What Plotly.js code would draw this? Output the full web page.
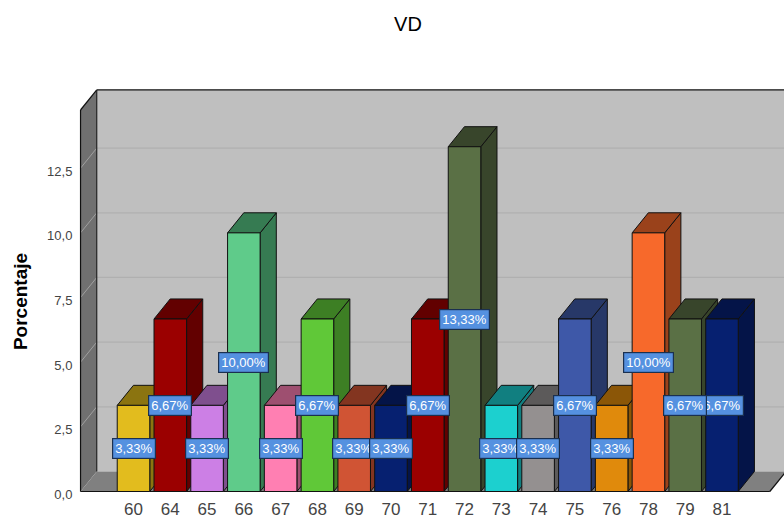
<!DOCTYPE html>
<html>
<head>
<meta charset="utf-8">
<script src="https://cdn.plot.ly/plotly-3.0.1.min.js"></script>
<style>html,body{margin:0;padding:0;background:#fff}#c{width:784px;height:518px}</style>
</head>
<body>
<div id="c"></div>
<script>
var categories = ["60","64","65","66","67","68","69","70","71","72","73","74","75","76","78","79","81"];
var values = [3.33,6.67,3.33,10,3.33,6.67,3.33,3.33,6.67,13.33,3.33,3.33,6.67,3.33,10,6.67,6.67];
var labels = ["3,33%","6,67%","3,33%","10,00%","3,33%","6,67%","3,33%","3,33%","6,67%","13,33%","3,33%","3,33%","6,67%","3,33%","10,00%","6,67%","6,67%"];
var frontColors = ["#E2BC1E","#9B0000","#CC7FE5","#5FCB8A","#FF7FB2","#60C838","#D05434","#062070","#9B0000","#5A7045","#1CD0CF","#949090","#3E58A8","#E08A0C","#F7692B","#5A7045","#062070"];
var sideColors = ["#8B7410","#620000","#7F4F8E","#367B52","#9E4F70","#3D7F24","#833520","#041448","#620000","#38452B","#117F80","#5C5A5A","#273868","#8B5607","#9A421B","#38452B","#041448"];
var yTickVals = [0,2.5,5,7.5,10,12.5];
var yTickText = ["0,0","2,5","5,0","7,5","10,0","12,5"];

var barWidth = 0.885, depthX = 0.44, depthY = 0.775;
var xFront = -1.44, xEnd = 17.3, yTopFront = 14.75;
var idx = categories.map(function(_, i){ return i; });
var FONT = "Liberation Sans, Arial, sans-serif";

function poly(pts, fill, line, lw){
  return {type:"path", layer:"below", xref:"x", yref:"y",
    path:"M " + pts.map(function(p){ return p[0] + " " + p[1]; }).join(" L ") + " Z",
    fillcolor:fill, line:{color:line || "rgba(0,0,0,0)", width: lw === undefined ? 1 : lw}};
}
function seg(x0,y0,x1,y1,color,w){
  return {type:"line", layer:"below", xref:"x", yref:"y", x0:x0, y0:y0, x1:x1, y1:y1, line:{color:color, width:w}};
}
var shapes = [];
// back wall, side wall, floor
shapes.push(poly([[xFront+depthX,depthY],[20,depthY],[20,yTopFront+depthY],[xFront+depthX,yTopFront+depthY]],"#BFBFBF"));
shapes.push(poly([[xFront,0],[xFront+depthX,depthY],[xFront+depthX,yTopFront+depthY],[xFront,yTopFront]],"#707070"));
shapes.push(poly([[xFront,0],[xEnd,0],[xEnd+depthX,depthY],[xFront+depthX,depthY]],"#808080"));
yTickVals.slice(1).forEach(function(v){
  shapes.push(seg(xFront,v,xFront+depthX,v+depthY,"#A0A0A0",1));
  shapes.push(seg(xFront+depthX,v+depthY,20,v+depthY,"#B0B0B0",1.2));
});
shapes.push(seg(xFront,0,xFront,yTopFront,"#111",1.2));
shapes.push(seg(xFront,yTopFront,xFront+depthX,yTopFront+depthY,"#111",1.2));
shapes.push(seg(xFront+depthX,depthY,xFront+depthX,yTopFront+depthY,"#222",1.2));
shapes.push(seg(xFront+depthX,yTopFront+depthY,20,yTopFront+depthY,"#111",1.2));
shapes.push(seg(xFront,0,xEnd,0,"#111",1.2));
shapes.push(seg(xEnd,0,xEnd+depthX,depthY,"#111",1.2));
// 3D side and top of each bar, computed from its value
values.forEach(function(v,i){
  var r = i + barWidth/2, l = i - barWidth/2;
  shapes.push(poly([[r,0],[r+depthX,depthY],[r+depthX,v+depthY],[r,v]],sideColors[i],"#111",1));
  shapes.push(poly([[l,v],[r,v],[r+depthX,v+depthY],[l+depthX,v+depthY]],sideColors[i],"#111",1));
});

// labels stack left to right, except that the one for 79 sits over the one for 81
var labelOrder = idx.slice(0, idx.length-2).concat([idx.length-1, idx.length-2]);
var annotations = labelOrder.map(function(i){
  return {x:i, y:values[i]/2, xref:"x", yref:"y", text:labels[i], showarrow:false,
    font:{family:FONT, size:13, color:"#fff"},
    bgcolor:"#5591E0", bordercolor:"#1A3050", borderwidth:1.2, borderpad:2, height:15};
});
annotations.push({xref:"paper", yref:"paper", x:-0.0837, xanchor:"center", y:0.475, yanchor:"middle", text:"<b>Porcentaje</b>", textangle:-90, showarrow:false,
  font:{family:FONT, size:19, color:"#000"}});

Plotly.newPlot("c", [{
  type:"bar", x:idx, y:values, width:barWidth, cliponaxis:false,
  marker:{color:frontColors, line:{color:"#111", width:1}}, hoverinfo:"skip"
}], {
  width:784, height:518, autosize:false, showlegend:false,
  margin:{l:79, r:0, t:89, b:25, pad:0},
  paper_bgcolor:"#fff", plot_bgcolor:"#fff",
  title:{text:"VD", font:{family:FONT, size:20, color:"#000"}, x:408/784, xanchor:"center", y:1-24/518, yanchor:"middle"},
  xaxis:{range:[-1.482,17.686], tickmode:"array", tickvals:idx, ticktext:categories, showgrid:false, zeroline:false, showline:false,
    ticks:"outside", ticklen:1, tickcolor:"rgba(0,0,0,0)", tickfont:{family:FONT, size:17, color:"#444"}},
  yaxis:{range:[-0.058,15.562], tickmode:"array", tickvals:yTickVals, ticktext:yTickText, showgrid:false, zeroline:false, showline:false,
    ticklabelshift:3,
    ticks:"outside", ticklen:3, tickcolor:"rgba(0,0,0,0)", tickfont:{family:FONT, size:13, color:"#444"}},
  shapes:shapes, annotations:annotations
}, {displayModeBar:false, staticPlot:true});
</script>
</body>
</html>
